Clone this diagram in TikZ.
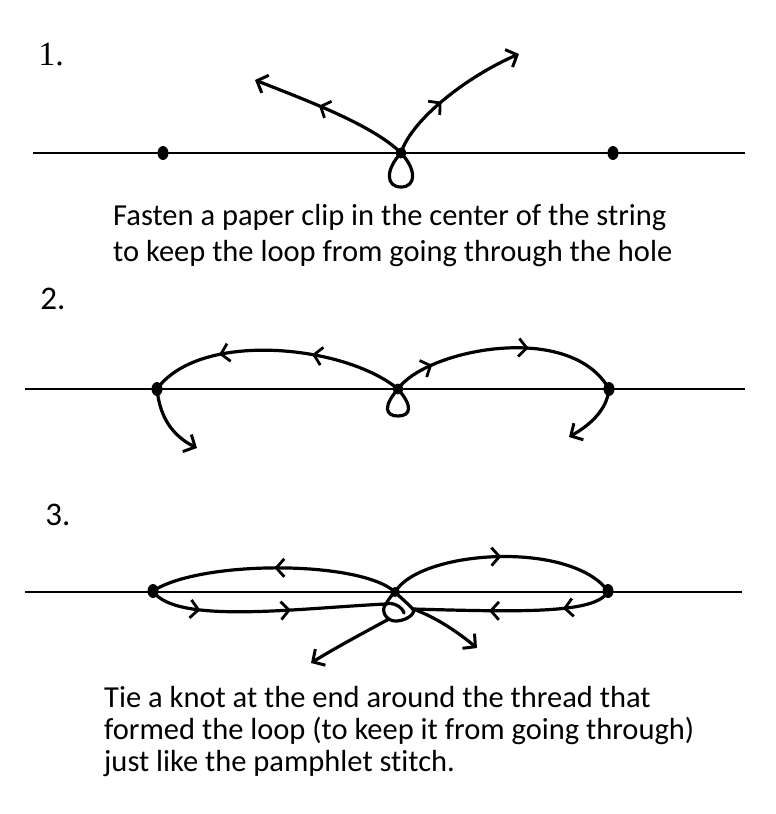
\documentclass[tikz,border=0pt]{standalone}
\usepackage{fontspec}
\setmainfont{Carlito}[Ligatures={NoCommon}]
\newfontfamily\numserif{Liberation Serif}
\usetikzlibrary{arrows.meta,decorations.markings,shapes.geometric}
\tikzset{
  chev/.tip={Straight Barb[length=8pt,width=18pt,line width=2.8pt]},
  endtip/.tip={Straight Barb[length=9pt,width=19pt,line width=3pt]},
  stringline/.style={line width=2.7pt,black},
  thread/.style={line width=3.2pt,black,line cap=round},
  dotnode/.style={ellipse,fill=black,inner sep=0pt,minimum width=11pt,minimum height=14pt},
  midone/.style={postaction={decorate,decoration={markings,mark=at position #1 with {\arrow{chev}}}}},
  midtwo/.style 2 args={postaction={decorate,decoration={markings,mark=at position #1 with {\arrow{chev}},mark=at position #2 with {\arrow{chev}}}}},
  caption/.style={anchor=base west,inner sep=0pt,font=\fontsize{30.5}{36}\selectfont},
  label/.style={anchor=center,inner sep=0pt,font=\fontsize{33}{38}\selectfont},
}
\begin{document}
\begin{tikzpicture}[x=1pt,y=-1pt]
\useasboundingbox[fill=white] (0,0) rectangle (776,814);

% ---------- panel 1 ----------
\node[label,font=\numserif\fontsize{34}{38}\selectfont] (n1) at (51,55) {1.};
\coordinate (s1a) at (33,153);
\coordinate (s1b) at (745,153);
\draw[stringline] (s1a) -- (s1b);
\node[dotnode] (l1) at (163,153) {};
\node[dotnode] (r1) at (613,153) {};
\coordinate (c1) at (401,153);
\fill (c1) circle (5.5pt);
\coordinate (t1l) at (255,80);
\coordinate (t1r) at (519,54);
\draw[thread,-endtip,midone=0.58] (c1) .. controls (372,124) and (300,98) .. (t1l);
\draw[thread,-endtip,midone=0.42] (c1) .. controls (412,118) and (470,75) .. (t1r);
\draw[thread] (c1) .. controls (385,170) and (386,187) .. (401,187) .. controls (416,187) and (417,170) .. (c1);

\node[caption] (txt1a) at (113,225) {Fasten a paper clip in the center of the string};
\node[caption] (txt1b) at (113,261) {to keep the loop from going through the hole};

% ---------- panel 2 ----------
\node[label] (n2) at (53,299) {2.};
\coordinate (s2a) at (25,389);
\coordinate (s2b) at (745,389);
\draw[stringline] (s2a) -- (s2b);
\node[dotnode] (l2) at (157,389) {};
\node[dotnode] (r2) at (609,389) {};
\coordinate (c2) at (398,389);
\fill (c2) circle (5.5pt);
\coordinate (t2l) at (197,448);
\coordinate (t2r) at (569,437);
\draw[thread,midtwo={0.36}{0.72}] (c2) .. controls (345,345) and (200,330) .. (l2.center);
\draw[thread,-endtip] (l2.center) .. controls (160,420) and (175,437) .. (t2l);
\draw[thread,midtwo={0.18}{0.6}] (c2) .. controls (425,350) and (570,320) .. (r2.center);
\draw[thread,-endtip] (r2.center) .. controls (607,410) and (590,425) .. (t2r);
\draw[thread] (c2) .. controls (383,406) and (385,416) .. (398,416) .. controls (411,416) and (413,406) .. (c2);

% ---------- panel 3 ----------
\node[label] (n3) at (58,515) {3.};
\coordinate (s3a) at (25,592);
\coordinate (s3b) at (742,592);
\draw[stringline] (s3a) -- (s3b);
\node[dotnode] (l3) at (153,591) {};
\node[dotnode] (r3) at (608,591) {};
\coordinate (c3) at (395,592);
\fill (c3) circle (5pt);
\coordinate (ka) at (386,604);
\coordinate (kb) at (413,609);
\coordinate (t3l) at (311,663);
\coordinate (t3r) at (477,648);
% upper loops
\draw[thread,midone=0.5] (c3) .. controls (360,560) and (200,560) .. (l3.center);
\draw[thread,midone=0.5] (c3) .. controls (420,550) and (570,540) .. (r3.center);
% lower returns
\draw[thread,midtwo={0.22}{0.6}] (l3.center) .. controls (175,625) and (300,608) .. (ka);
\draw[thread,midtwo={0.25}{0.62}] (r3.center) .. controls (598,614) and (520,612) .. (kb);
% crossing into the knot
\draw[thread] (c3) .. controls (400,597) and (406,602) .. (kb);
\draw[thread] (c3) .. controls (391,596) and (388,600) .. (ka);
% knot loop
\draw[thread] (ka) .. controls (380,610) and (386,622) .. (397,621) .. controls (409,620) and (416,612) .. (kb);
\draw[thread] (ka) .. controls (392,602) and (402,606) .. (404,613);
% loose ends
\draw[thread,-endtip] (389,619) .. controls (365,632) and (335,648) .. (t3l);
\draw[thread,-endtip] (kb) .. controls (438,618) and (460,634) .. (t3r);

\node[caption] (txt3a) at (104,707) {Tie a knot at the end around the thread that};
\node[caption] (txt3b) at (104,739) {formed the loop (to keep it from going through)};
\node[caption] (txt3c) at (104,771) {just like the pamphlet stitch.};
\end{tikzpicture}
\end{document}
